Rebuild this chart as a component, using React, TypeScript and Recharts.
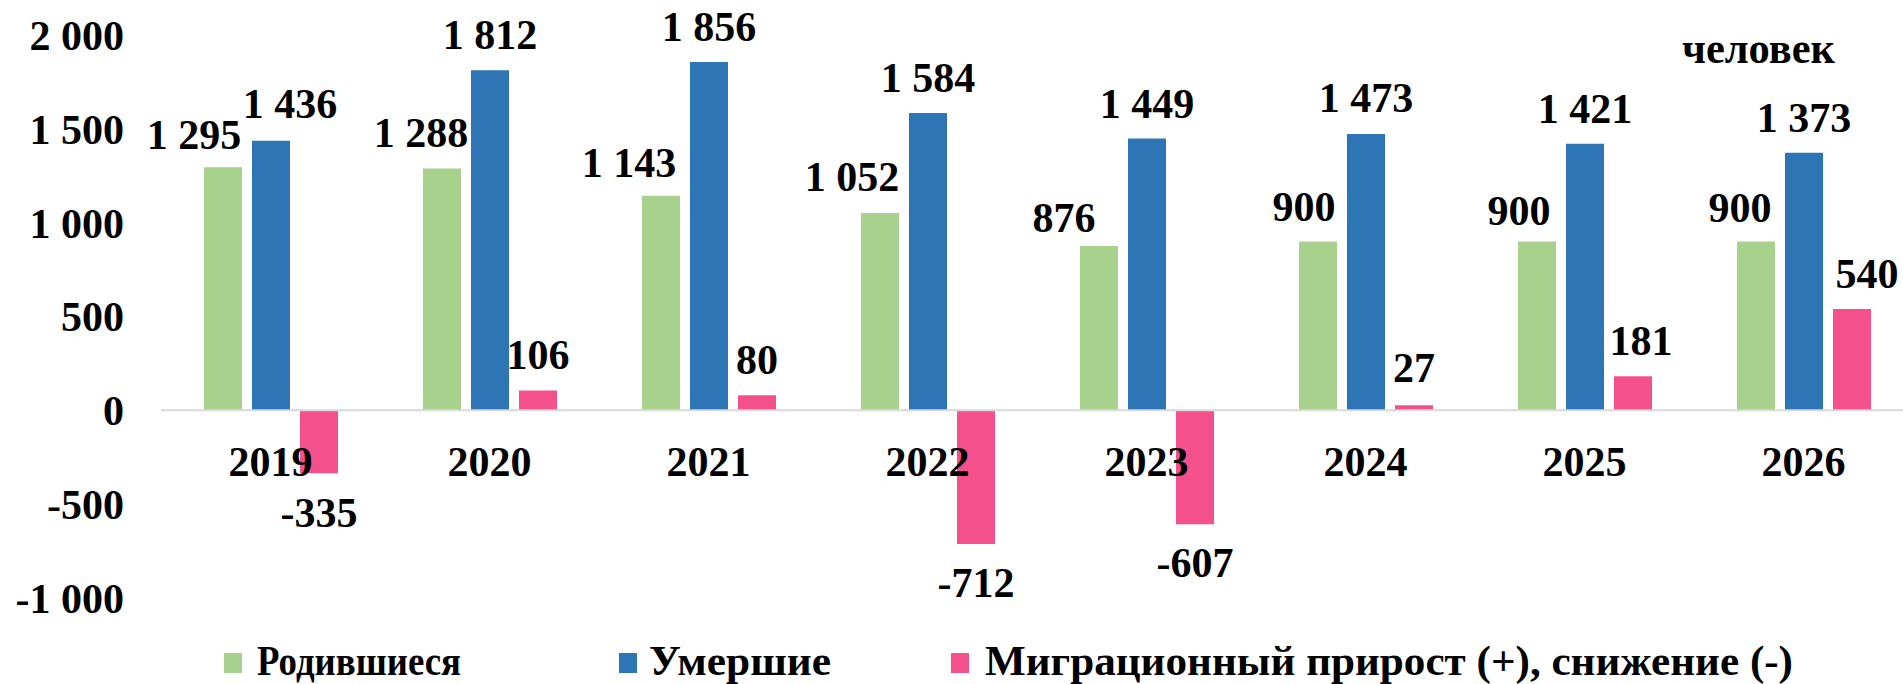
import React from 'react'
import { Bar, BarChart, LabelList, ReferenceLine, XAxis, YAxis } from 'recharts'

const years = ['2019', '2020', '2021', '2022', '2023', '2024', '2025', '2026']
const born = [1295, 1288, 1143, 1052, 876, 900, 900, 900]
const died = [1436, 1812, 1856, 1584, 1449, 1473, 1421, 1373]
const migration = [-335, 106, 80, -712, -607, 27, 181, 540]
const yTicks = [-1000, -500, 0, 500, 1000, 1500, 2000]

const seriesNames = ['Родившиеся', 'Умершие', 'Миграционный прирост (+), снижение (-)']
const colors = ['#A9D18E', '#2E75B6', '#F4508B']

// label nudges (px) as placed in the original
const bornDx = [-29, -21, -32, -28, -35, -14, -18, -16]
const bornDy = [-33, -36, -33, -36, -28, -35, -31, -34]
const diedDx = [19, 0, 0, 0, 0, 0, 0, 0]
const diedDy = [-37, -35, -35, -35, -35, -36, -35, -35]
const migrDx = [0, 0, 0, 0, 0, 0, 8, 15]
const migrDy = [40, -36, -36, 39, 39, -37, -36, -35]

const data = years.map((year, i) => ({
  year,
  born: born[i],
  died: died[i],
  migration: migration[i],
}))

const FONT = "'Liberation Serif', 'Times New Roman', serif"
const FS = 42

const fmt = (n: number) => String(n).replace(/\B(?=(\d{3})+(?!\d))/g, ' ')

const makeLabel = (dxs: number[], dys: number[]) => (props: any) => {
  const { x, y, width, height, value, index } = props
  const cx = Number(x) + Number(width) / 2 + dxs[index]
  const top = Math.min(Number(y), Number(y) + Number(height))
  const bottom = Math.max(Number(y), Number(y) + Number(height))
  const center = value >= 0 ? top + dys[index] : bottom + dys[index]
  return (
    <text
      x={cx}
      y={center + FS * 0.338}
      textAnchor="middle"
      fontFamily={FONT}
      fontWeight="bold"
      fontSize={FS}
      fill="#000"
    >
      {fmt(value)}
    </text>
  )
}

// year labels sit just under the zero line, not at the bottom of the plot
const YearTick = (props: any) => {
  const { x, y, payload } = props
  return (
    <text
      x={x}
      y={y}
      dy={-122}
      textAnchor="middle"
      fontFamily={FONT}
      fontWeight="bold"
      fontSize={FS}
      fill="#000"
    >
      {payload.value}
    </text>
  )
}

const legendItems = [
  { x: 224, textX: 257, textWidth: 204 },
  { x: 619, textX: 649, textWidth: 182 },
  { x: 951, textX: 985, textWidth: 808 },
]

export default function App() {
  return (
    <div
      style={{
        position: 'absolute',
        left: 0,
        top: 0,
        width: 1903,
        height: 684,
        overflow: 'hidden',
        background: '#fff',
      }}
    >
      <BarChart
        width={1925}
        height={684}
        data={data}
        margin={{ top: 35, right: 12, bottom: 56, left: 0 }}
        barSize={38}
        barGap={10}
      >
        <YAxis
          width={161}
          domain={[-1000, 2000]}
          ticks={yTicks}
          interval={0}
          axisLine={false}
          tickLine={false}
          tickSize={0}
          tickMargin={37}
          tickFormatter={fmt}
          tick={{ fontFamily: FONT, fontWeight: 'bold', fontSize: FS, fill: '#000' }}
        />
        <ReferenceLine y={0} stroke="#D9D9D9" strokeWidth={2} />
        <Bar dataKey="born" fill={colors[0]} isAnimationActive={false}>
          <LabelList dataKey="born" content={makeLabel(bornDx, bornDy)} />
        </Bar>
        <Bar dataKey="died" fill={colors[1]} isAnimationActive={false}>
          <LabelList dataKey="died" content={makeLabel(diedDx, diedDy)} />
        </Bar>
        <Bar dataKey="migration" fill={colors[2]} isAnimationActive={false}>
          <LabelList dataKey="migration" content={makeLabel(migrDx, migrDy)} />
        </Bar>
        <XAxis
          dataKey="year"
          height={30}
          axisLine={false}
          tickLine={false}
          tickSize={0}
          tickMargin={0}
          interval={0}
          tick={<YearTick />}
        />
      </BarChart>
      <svg
        width={1903}
        height={684}
        style={{ position: 'absolute', left: 0, top: 0, pointerEvents: 'none' }}
      >
        <text
          x={1682}
          y={63}
          fontFamily={FONT}
          fontWeight="bold"
          fontSize={44}
          textLength={153}
          lengthAdjust="spacingAndGlyphs"
          fill="#000"
        >
          человек
        </text>
        {legendItems.map((item, i) => (
          <g key={seriesNames[i]}>
            <rect x={item.x} y={653} width={18} height={20} fill={colors[i]} />
            <text
              x={item.textX}
              y={675}
              fontFamily={FONT}
              fontWeight="bold"
              fontSize={43}
              textLength={item.textWidth}
              lengthAdjust="spacingAndGlyphs"
              fill="#000"
            >
              {seriesNames[i]}
            </text>
          </g>
        ))}
      </svg>
    </div>
  )
}
